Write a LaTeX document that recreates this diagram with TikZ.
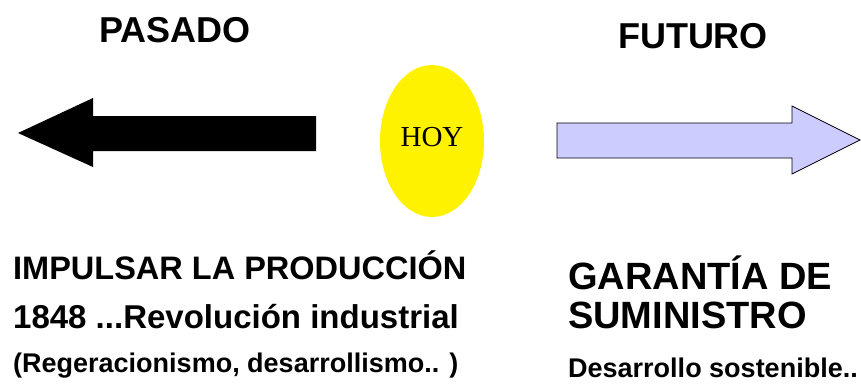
\documentclass[tikz,border=0pt]{standalone}
\usepackage{fontspec}
\setmainfont{Liberation Sans}
\newfontfamily\hoyfont{Liberation Serif}
\usetikzlibrary{positioning,shapes.geometric}

\definecolor{futuro}{HTML}{CCCCFF}

\tikzset{
  titulo/.style={font=\bfseries\fontsize{36}{40}\selectfont, inner sep=0pt, anchor=base},
  linea/.style={font=\bfseries\fontsize{#1}{#1}\selectfont, inner sep=0pt, anchor=base west},
  hoybox/.style={ellipse, fill=yellow, minimum width=104pt, minimum height=152pt, inner sep=0pt}
}

\begin{document}
\begin{tikzpicture}[x=1pt,y=-1pt]
  \useasboundingbox (0,0) rectangle (861,386);
  % titles
  \node[titulo] (pasado) at (175,42) {PASADO};
  \node[titulo] (futuro) at (693,48) {FUTURO};
  % arrows
  \fill[black] (18,133) -- (93,98) -- (93,116) -- (316,116) -- (316,151)
     -- (93,151) -- (93,167) -- cycle;
  \filldraw[fill=futuro, draw=black, line width=0.8pt] (557,123) -- (792,123)
     -- (792,106) -- (860,140) -- (792,174) -- (792,158) -- (557,158) -- cycle;
  % today
  \node[hoybox] (hoy) at (432,141) {};
  \node[font=\hoyfont\fontsize{29}{30}\selectfont, inner sep=0pt] (hoytxt)
     at ([yshift=4pt]hoy.center) {HOY};
  % left column
  \node[linea=32.5] (impulsar) at (13,279) {IMPULSAR LA PRODUCCIÓN};
  \node[linea=33] (revolucion) at (13,328) {1848 ...Revolución industrial};
  \node[linea=27] (regera) at (13,372) {(Regeracionismo, desarrollismo.. )};
  % right column
  \node[linea=38] (garantia) at (568,289) {GARANTÍA DE};
  \node[linea=38] (suministro) at (568,328) {SUMINISTRO};
  \node[linea=27] (desarrollo) at (568,377) {Desarrollo sostenible..};
\end{tikzpicture}
\end{document}
